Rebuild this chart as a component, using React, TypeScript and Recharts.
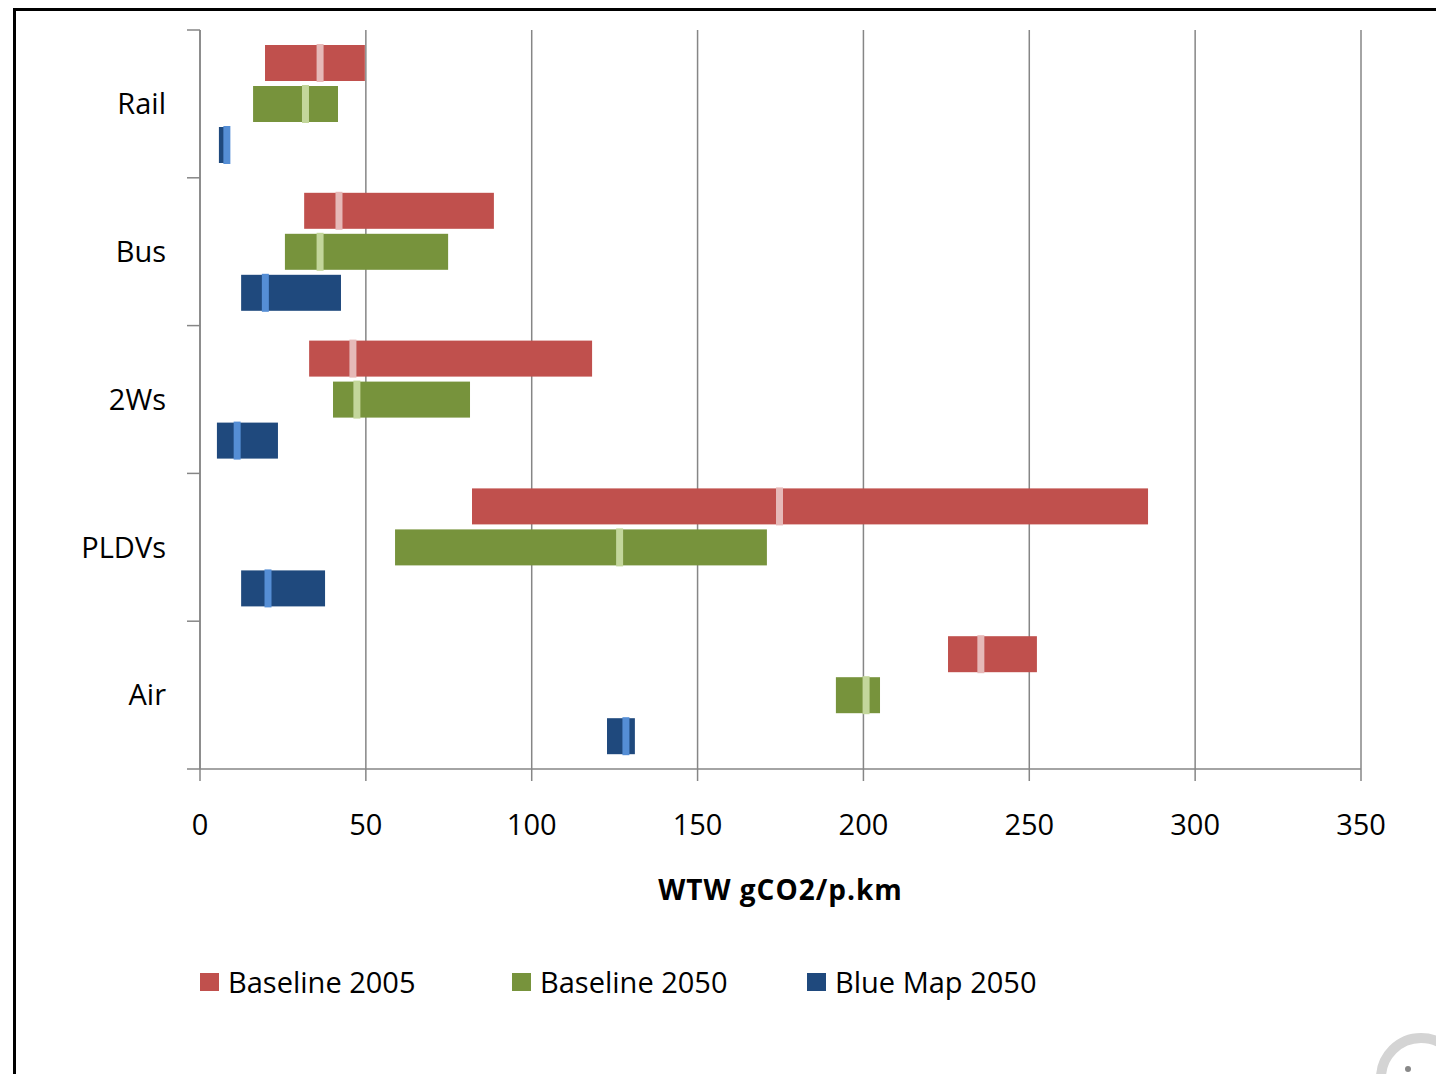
import { Bar, BarChart, CartesianGrid, Legend, XAxis, YAxis } from "recharts";

const FONT = "'Open Sans', sans-serif";
const GRID = "#868686";

const CHART_W = 1436;
const CHART_H = 1074;
const MARGIN = { top: 30, right: 75, bottom: 145, left: 0 };
const X_AXIS_H = 160;
const TICK_SIZE = 13;
const TICK_MARGIN = 21;

// In gCO2 per passenger-km.
const categories = ["Rail", "Bus", "2Ws", "PLDVs", "Air"];

const base2005Low = [19.6, 31.4, 32.9, 82.0, 225.5];
const base2005High = [49.7, 88.6, 118.2, 285.8, 252.3];
const base2005Mid = [36.2, 41.9, 46.1, 174.7, 235.4];

const base2050Low = [16.0, 25.6, 40.1, 58.8, 191.7];
const base2050High = [41.6, 74.8, 81.4, 170.9, 205.0];
const base2050Mid = [31.8, 36.2, 47.3, 126.5, 200.8];

const blue2050Low = [5.7, 12.4, 5.1, 12.4, 122.7];
const blue2050High = [9.0, 42.5, 23.5, 37.7, 131.1];
const blue2050Mid = [8.1, 19.7, 11.2, 20.5, 128.4];

const xTicks = [0, 50, 100, 150, 200, 250, 300, 350];

const SERIES = [
  { key: "b05", name: "Baseline 2005", fill: "#C0504D", mark: "#E6B9B8", lo: base2005Low, hi: base2005High, mid: base2005Mid },
  { key: "b50", name: "Baseline 2050", fill: "#77933C", mark: "#C3D69B", lo: base2050Low, hi: base2050High, mid: base2050Mid },
  { key: "bm50", name: "Blue Map 2050", fill: "#1F497D", mark: "#558ED5", lo: blue2050Low, hi: blue2050High, mid: blue2050Mid },
];

const data = categories.map((cat, i) => {
  const row: Record<string, unknown> = { cat };
  SERIES.forEach((s) => {
    row[s.key] = [s.lo[i], s.hi[i]];
    row[s.key + "Mid"] = s.mid[i];
  });
  return row;
});

// range bar with the middle value drawn as a light stripe
const rangeShape = (key: string, mark: string) => (props: any) => {
  const { x, y, width, height, fill, payload } = props;
  const [lo, hi] = payload[key];
  const mid = payload[key + "Mid"];
  const mx = x + ((mid - lo) / (hi - lo)) * width;
  return (
    <g>
      <rect x={x} y={y} width={width} height={height} fill={fill} />
      <rect x={mx - 3.5} y={y - 1} width={7} height={height + 2} fill={mark} />
    </g>
  );
};

// Excel puts the category tick marks between categories, not on them
const plotH = CHART_H - MARGIN.top - MARGIN.bottom - X_AXIS_H;
const halfBand = plotH / categories.length / 2;

function CatTick(props: any) {
  const { x, y, payload, index } = props;
  const x1 = x + TICK_MARGIN;
  const x2 = x1 + TICK_SIZE;
  const last = index === categories.length - 1;
  return (
    <g>
      <line x1={x1} x2={x2} y1={y - halfBand} y2={y - halfBand} stroke={GRID} strokeWidth={1.5} />
      {last && <line x1={x1} x2={x2} y1={y + halfBand} y2={y + halfBand} stroke={GRID} strokeWidth={1.5} />}
      <text x={x} y={y} dy="0.355em" textAnchor="end" fill="#000" fontSize={29} fontFamily={FONT}>
        {payload.value}
      </text>
    </g>
  );
}

const ITEM_W = [312, 295, 260];

function LegendBox(props: any) {
  const items = props.payload ?? [];
  return (
    <div style={{ display: "flex", alignItems: "center", fontFamily: FONT, fontSize: 29, lineHeight: "40px", color: "#000" }}>
      {items.map((it: any, i: number) => (
        <div key={i} style={{ width: ITEM_W[i], display: "flex", alignItems: "center" }}>
          <span style={{ display: "inline-block", width: 19, height: 18, background: it.color, marginRight: 9 }} />
          <span>{it.value}</span>
        </div>
      ))}
    </div>
  );
}

export default function App() {
  return (
    <div style={{ position: "absolute", left: 0, top: 0, width: CHART_W, height: CHART_H, overflow: "hidden", background: "#fff" }}>
      <div
        style={{
          position: "absolute",
          left: 13,
          top: 8,
          width: 1440,
          height: 1080,
          borderLeft: "3px solid #000",
          borderTop: "3px solid #000",
        }}
      />
      <div style={{ position: "absolute", left: 0, top: 0 }}>
        <BarChart
          width={CHART_W}
          height={CHART_H}
          data={data}
          layout="vertical"
          margin={MARGIN}
          barSize={36}
          barGap={5}
        >
          <CartesianGrid horizontal={false} stroke={GRID} strokeWidth={1.5} />
          <XAxis
            type="number"
            domain={[0, 350]}
            ticks={xTicks}
            interval={0}
            height={X_AXIS_H}
            stroke={GRID}
            strokeWidth={1.5}
            tickSize={12}
            tickMargin={33}
            tick={{ fill: "#000", fontSize: 29, fontFamily: FONT }}
            label={{
              value: "WTW gCO2/p.km",
              position: "insideTop",
              offset: 111,
              fill: "#000",
              fontSize: 28,
              fontWeight: 700,
              letterSpacing: 1,
              fontFamily: FONT,
            }}
          />
          <YAxis
            type="category"
            dataKey="cat"
            width={200}
            stroke={GRID}
            strokeWidth={1.5}
            tickLine={false}
            tickSize={TICK_SIZE}
            tickMargin={TICK_MARGIN}
            tick={<CatTick />}
          />
          <Legend
            layout="horizontal"
            verticalAlign="middle"
            align="center"
            content={<LegendBox />}
            wrapperStyle={{ top: 962, left: 200, width: 1000 }}
          />
          {SERIES.map((s) => (
            <Bar
              key={s.key}
              dataKey={s.key}
              name={s.name}
              fill={s.fill}
              shape={rangeShape(s.key, s.mark)}
              isAnimationActive={false}
            />
          ))}
        </BarChart>
      </div>
      <svg style={{ position: "absolute", left: 1360, top: 1020 }} width={76} height={54}>
        <circle cx={61} cy={58} r={40} fill="none" stroke="#d4d4d4" strokeWidth={10} />
        <circle cx={48} cy={49} r={3} fill="#888" />
      </svg>
    </div>
  );
}
